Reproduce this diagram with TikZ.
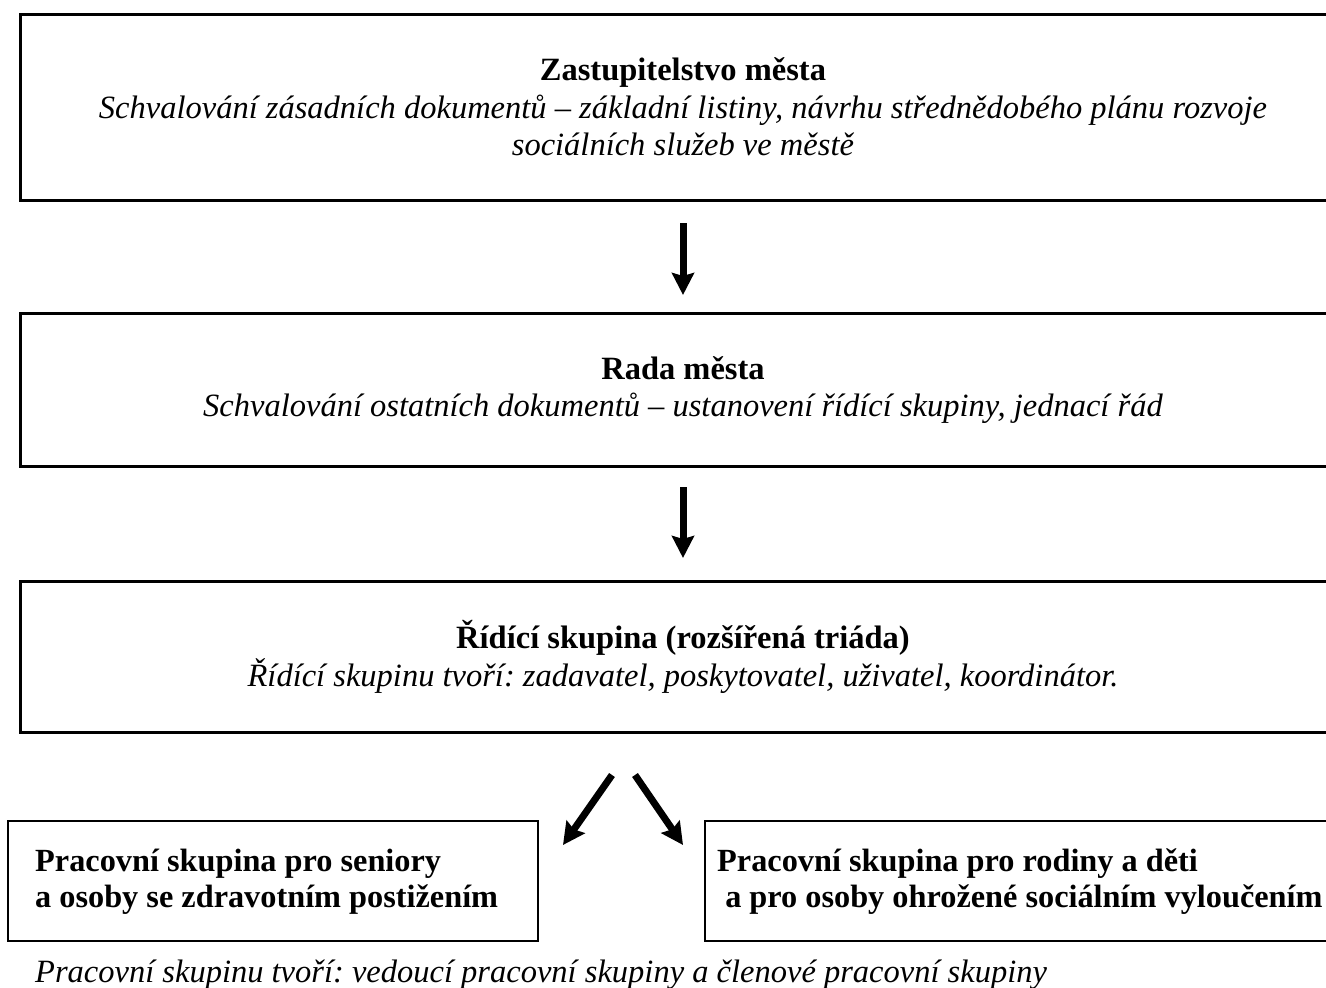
\documentclass[tikz,border=0pt]{standalone}
\usepackage{fontspec}
\setmainfont{Liberation Serif}
\usetikzlibrary{arrows.meta}
\frenchspacing
\begin{document}
\begin{tikzpicture}[x=1pt,y=-1pt,
  bigbox/.style={draw=black, line width=3pt, minimum width=1326pt, inner sep=0pt, align=center,
     font=\fontsize{32.5}{37.5}\selectfont},
  lowbox/.style={draw=black, line width=2.4pt, anchor=north west, inner sep=0pt, minimum height=120pt},
  lowtext/.style={anchor=west, align=left, inner sep=0pt,
     font=\fontsize{32.3}{36}\selectfont\bfseries},
  bigarrow/.style={line width=7pt, -{Stealth[length=22pt, width=22pt, inset=3pt]}},
  note/.style={font=\fontsize{32.5}{37.5}\selectfont\itshape, inner sep=0pt}]
\useasboundingbox (0,0) rectangle (1326,988);
\fill[white] (0,0) rectangle (1326,988);

\node[bigbox, minimum height=186pt] (zast) at (683,107)
  {\textbf{Zastupitelstvo města}\\
   \textit{Schvalování zásadních dokumentů – základní listiny, návrhu střednědobého plánu rozvoje}\\
   \textit{sociálních služeb ve městě}};

\node[bigbox, minimum height=153pt] (rada) at (683,390)
  {\textbf{Rada města}\\
   \textit{Schvalování ostatních dokumentů – ustanovení řídící skupiny, jednací řád}};

\node[bigbox, minimum height=151pt] (rid) at (683,657)
  {\textbf{Řídící skupina (rozšířená triáda)}\\
   \textit{Řídící skupinu tvoří: zadavatel, poskytovatel, uživatel, koordinátor.}};

\node[lowbox, minimum width=530pt] (sen) at (7,820) {};
\node[lowtext] (sentext) at (35,882)
  {Pracovní skupina pro seniory\\a osoby se zdravotním postižením};

\node[lowbox, minimum width=656pt] (rod) at (704,820) {};
\node[lowtext] (rodtext) at (717,882)
  {Pracovní skupina pro rodiny a děti\\\ a pro osoby ohrožené sociálním vyloučením};

\node[note, anchor=base west] (pozn) at (35,982)
  {Pracovní skupinu tvoří: vedoucí pracovní skupiny a členové pracovní skupiny};

\coordinate (a1s) at (683,223);
\coordinate (a1e) at (683,295);
\coordinate (a2s) at (683,487);
\coordinate (a2e) at (683,558);
\coordinate (a3s) at (612,775);
\coordinate (a3e) at (563,845);
\coordinate (a4s) at (635,775);
\coordinate (a4e) at (683,845);

\draw[bigarrow] (a1s) -- (a1e);
\draw[bigarrow] (a2s) -- (a2e);
\draw[bigarrow] (a3s) -- (a3e);
\draw[bigarrow] (a4s) -- (a4e);
\end{tikzpicture}
\end{document}
